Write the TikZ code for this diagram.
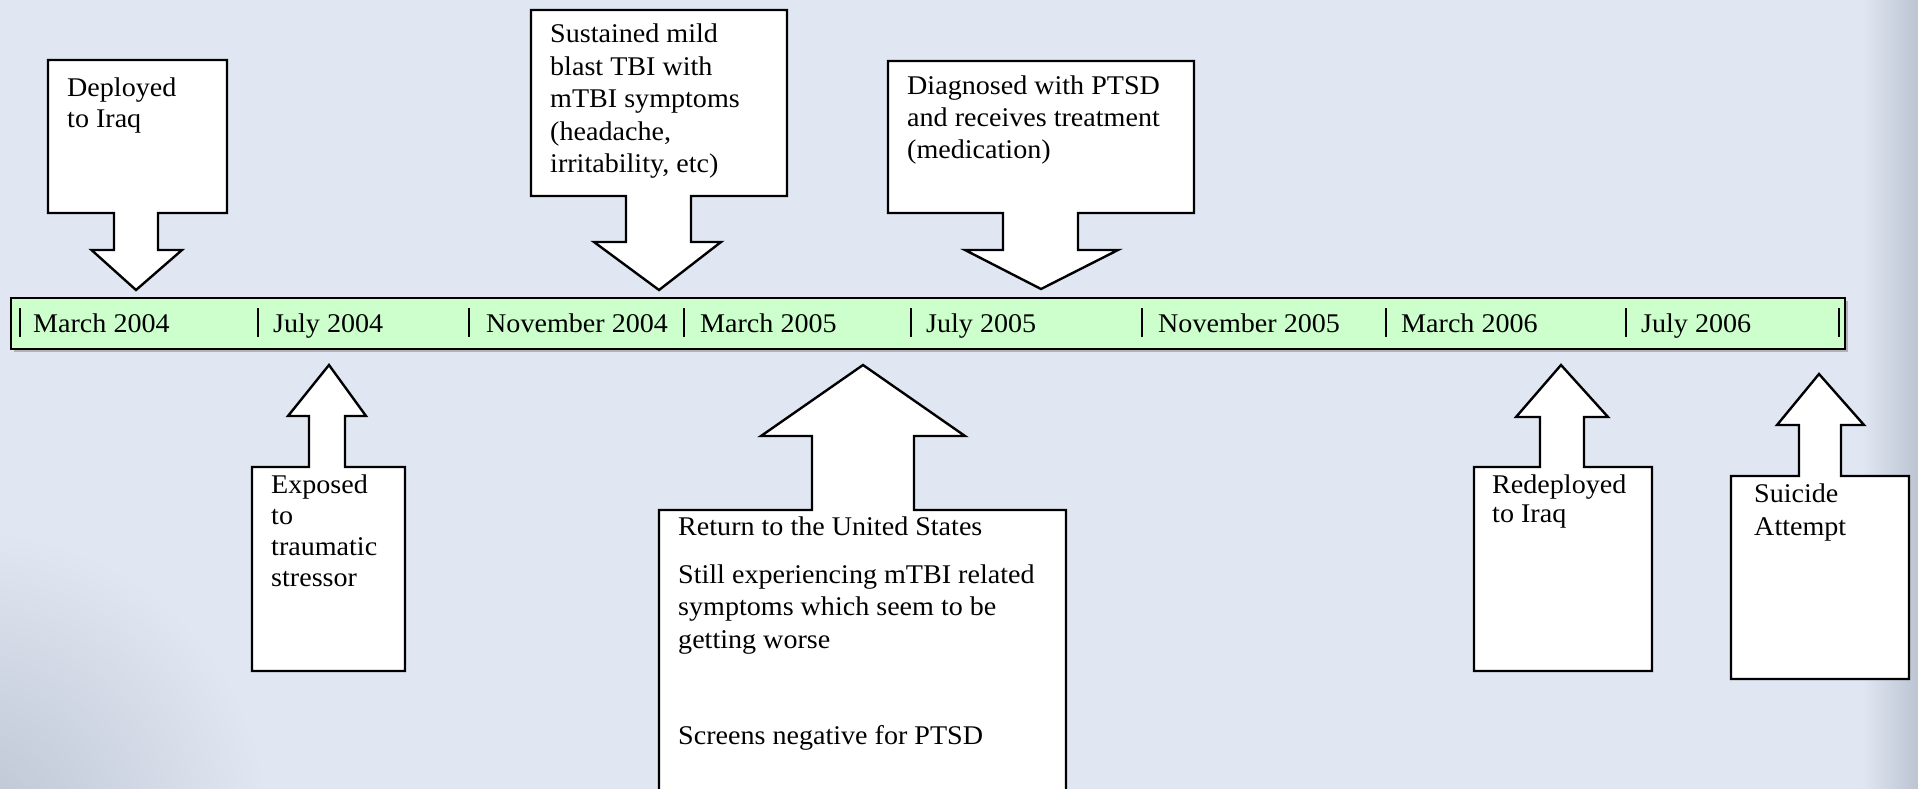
\documentclass[tikz,border=0pt]{standalone}
\usepackage{fontspec}
\setmainfont{Liberation Serif}[FakeStretch=1.04]
\definecolor{slidebg}{RGB}{224,231,242}
\definecolor{slideedge}{RGB}{188,196,210}
\definecolor{barfill}{RGB}{204,255,204}
% stacked lines whose reference point is the first baseline
\newcommand{\lns}[1]{\begin{tabular}[t]{@{}l@{}}#1\end{tabular}}
\tikzset{
  callout/.style={draw=black, fill=white, line width=2.4pt, line join=miter},
  txt/.style={anchor=base west, inner sep=0pt},
  datelbl/.style={anchor=base west, inner sep=0pt},
  tickmark/.style={line width=2.6pt}
}
\begin{document}
\begin{tikzpicture}[x=1pt, y=-1pt, font=\fontsize{27}{32}\selectfont]
\useasboundingbox (0,0) rectangle (1918,789);
\clip (0,0) rectangle (1918,789);

% slide background with darker edges
\fill[slidebg] (0,0) rectangle (1918,789);
\shade[left color=slidebg, right color=slideedge] (1862,0) rectangle (1918,789);
\shade[inner color=slideedge, outer color=slidebg] (-30,830) circle (300);

% timeline bar
\fill[gray!60] (14,301) rectangle (1848,352);
\draw[line width=2.6pt, fill=barfill] (11,298) rectangle (1845,349);
\foreach \tx in {20,258,469,684,911,1142,1386,1626,1839}
  \draw[tickmark] (\tx,308) -- (\tx,337);

\node[datelbl] (d1) at (33,332)   {March 2004};
\node[datelbl] (d2) at (273,332)  {July 2004};
\node[datelbl] (d3) at (486,332)  {November 2004};
\node[datelbl] (d4) at (700,332)  {March 2005};
\node[datelbl] (d5) at (926,332)  {July 2005};
\node[datelbl] (d6) at (1158,332) {November 2005};
\node[datelbl] (d7) at (1401,332) {March 2006};
\node[datelbl] (d8) at (1641,332) {July 2006};

% callouts pointing down onto the bar
\draw[callout] (48,60) -- (227,60) -- (227,213) -- (158,213) -- (158,250) -- (182,250)
  -- (136,290) -- (91.5,250) -- (114,250) -- (114,213) -- (48,213) -- cycle;
\draw[callout] (531,10) -- (787,10) -- (787,196) -- (691,196) -- (691,242) -- (721,242)
  -- (659,290) -- (594,242) -- (626,242) -- (626,196) -- (531,196) -- cycle;
\draw[callout] (888,61) -- (1194,61) -- (1194,213) -- (1078,213) -- (1078,250) -- (1118,250)
  -- (1041,289) -- (965,250) -- (1003,250) -- (1003,213) -- (888,213) -- cycle;

% callouts pointing up at the bar
\draw[callout] (252,467) -- (309,467) -- (309,416) -- (288,416) -- (329,365) -- (366,416)
  -- (345,416) -- (345,467) -- (405,467) -- (405,671) -- (252,671) -- cycle;
\draw[callout] (659,510) -- (812,510) -- (812,436) -- (761,436) -- (863,365) -- (965,436)
  -- (914,436) -- (914,510) -- (1066,510) -- (1066,810) -- (659,810) -- cycle;
\draw[callout] (1474,467) -- (1540,467) -- (1540,417) -- (1516,417) -- (1561,365) -- (1608,417)
  -- (1584,417) -- (1584,467) -- (1652,467) -- (1652,671) -- (1474,671) -- cycle;
\draw[callout] (1731,476) -- (1799,476) -- (1799,425) -- (1777,425) -- (1819,374) -- (1864,425)
  -- (1841,425) -- (1841,476) -- (1909,476) -- (1909,679) -- (1731,679) -- cycle;

% event texts
\node[txt, font=\fontsize{27}{31}\selectfont] (deployed) at (67,97) {\lns{Deployed\\to Iraq}};
\node[txt, font=\fontsize{27}{32.5}\selectfont] (blast) at (550,43)
  {\lns{Sustained mild\\blast TBI with\\mTBI symptoms\\(headache,\\irritability, etc)}};
\node[txt] (ptsd) at (907,95) {\lns{Diagnosed with PTSD\\and receives treatment\\(medication)}};
\node[txt, font=\fontsize{27}{31}\selectfont] (exposed) at (271,493) {\lns{Exposed\\to\\traumatic\\stressor}};
\node[txt] (return) at (678,535) {Return to the United States};
\node[txt, font=\fontsize{27}{32.5}\selectfont] (still) at (678,583)
  {\lns{Still experiencing mTBI related\\symptoms which seem to be\\getting worse}};
\node[txt] (screen) at (678,744) {Screens negative for PTSD};
\node[txt, font=\fontsize{27}{29}\selectfont] (redeployed) at (1492,493) {\lns{Redeployed\\to Iraq}};
\node[txt, font=\fontsize{27}{33}\selectfont] (suicide) at (1754,502) {\lns{Suicide\\Attempt}};
\end{tikzpicture}
\end{document}
